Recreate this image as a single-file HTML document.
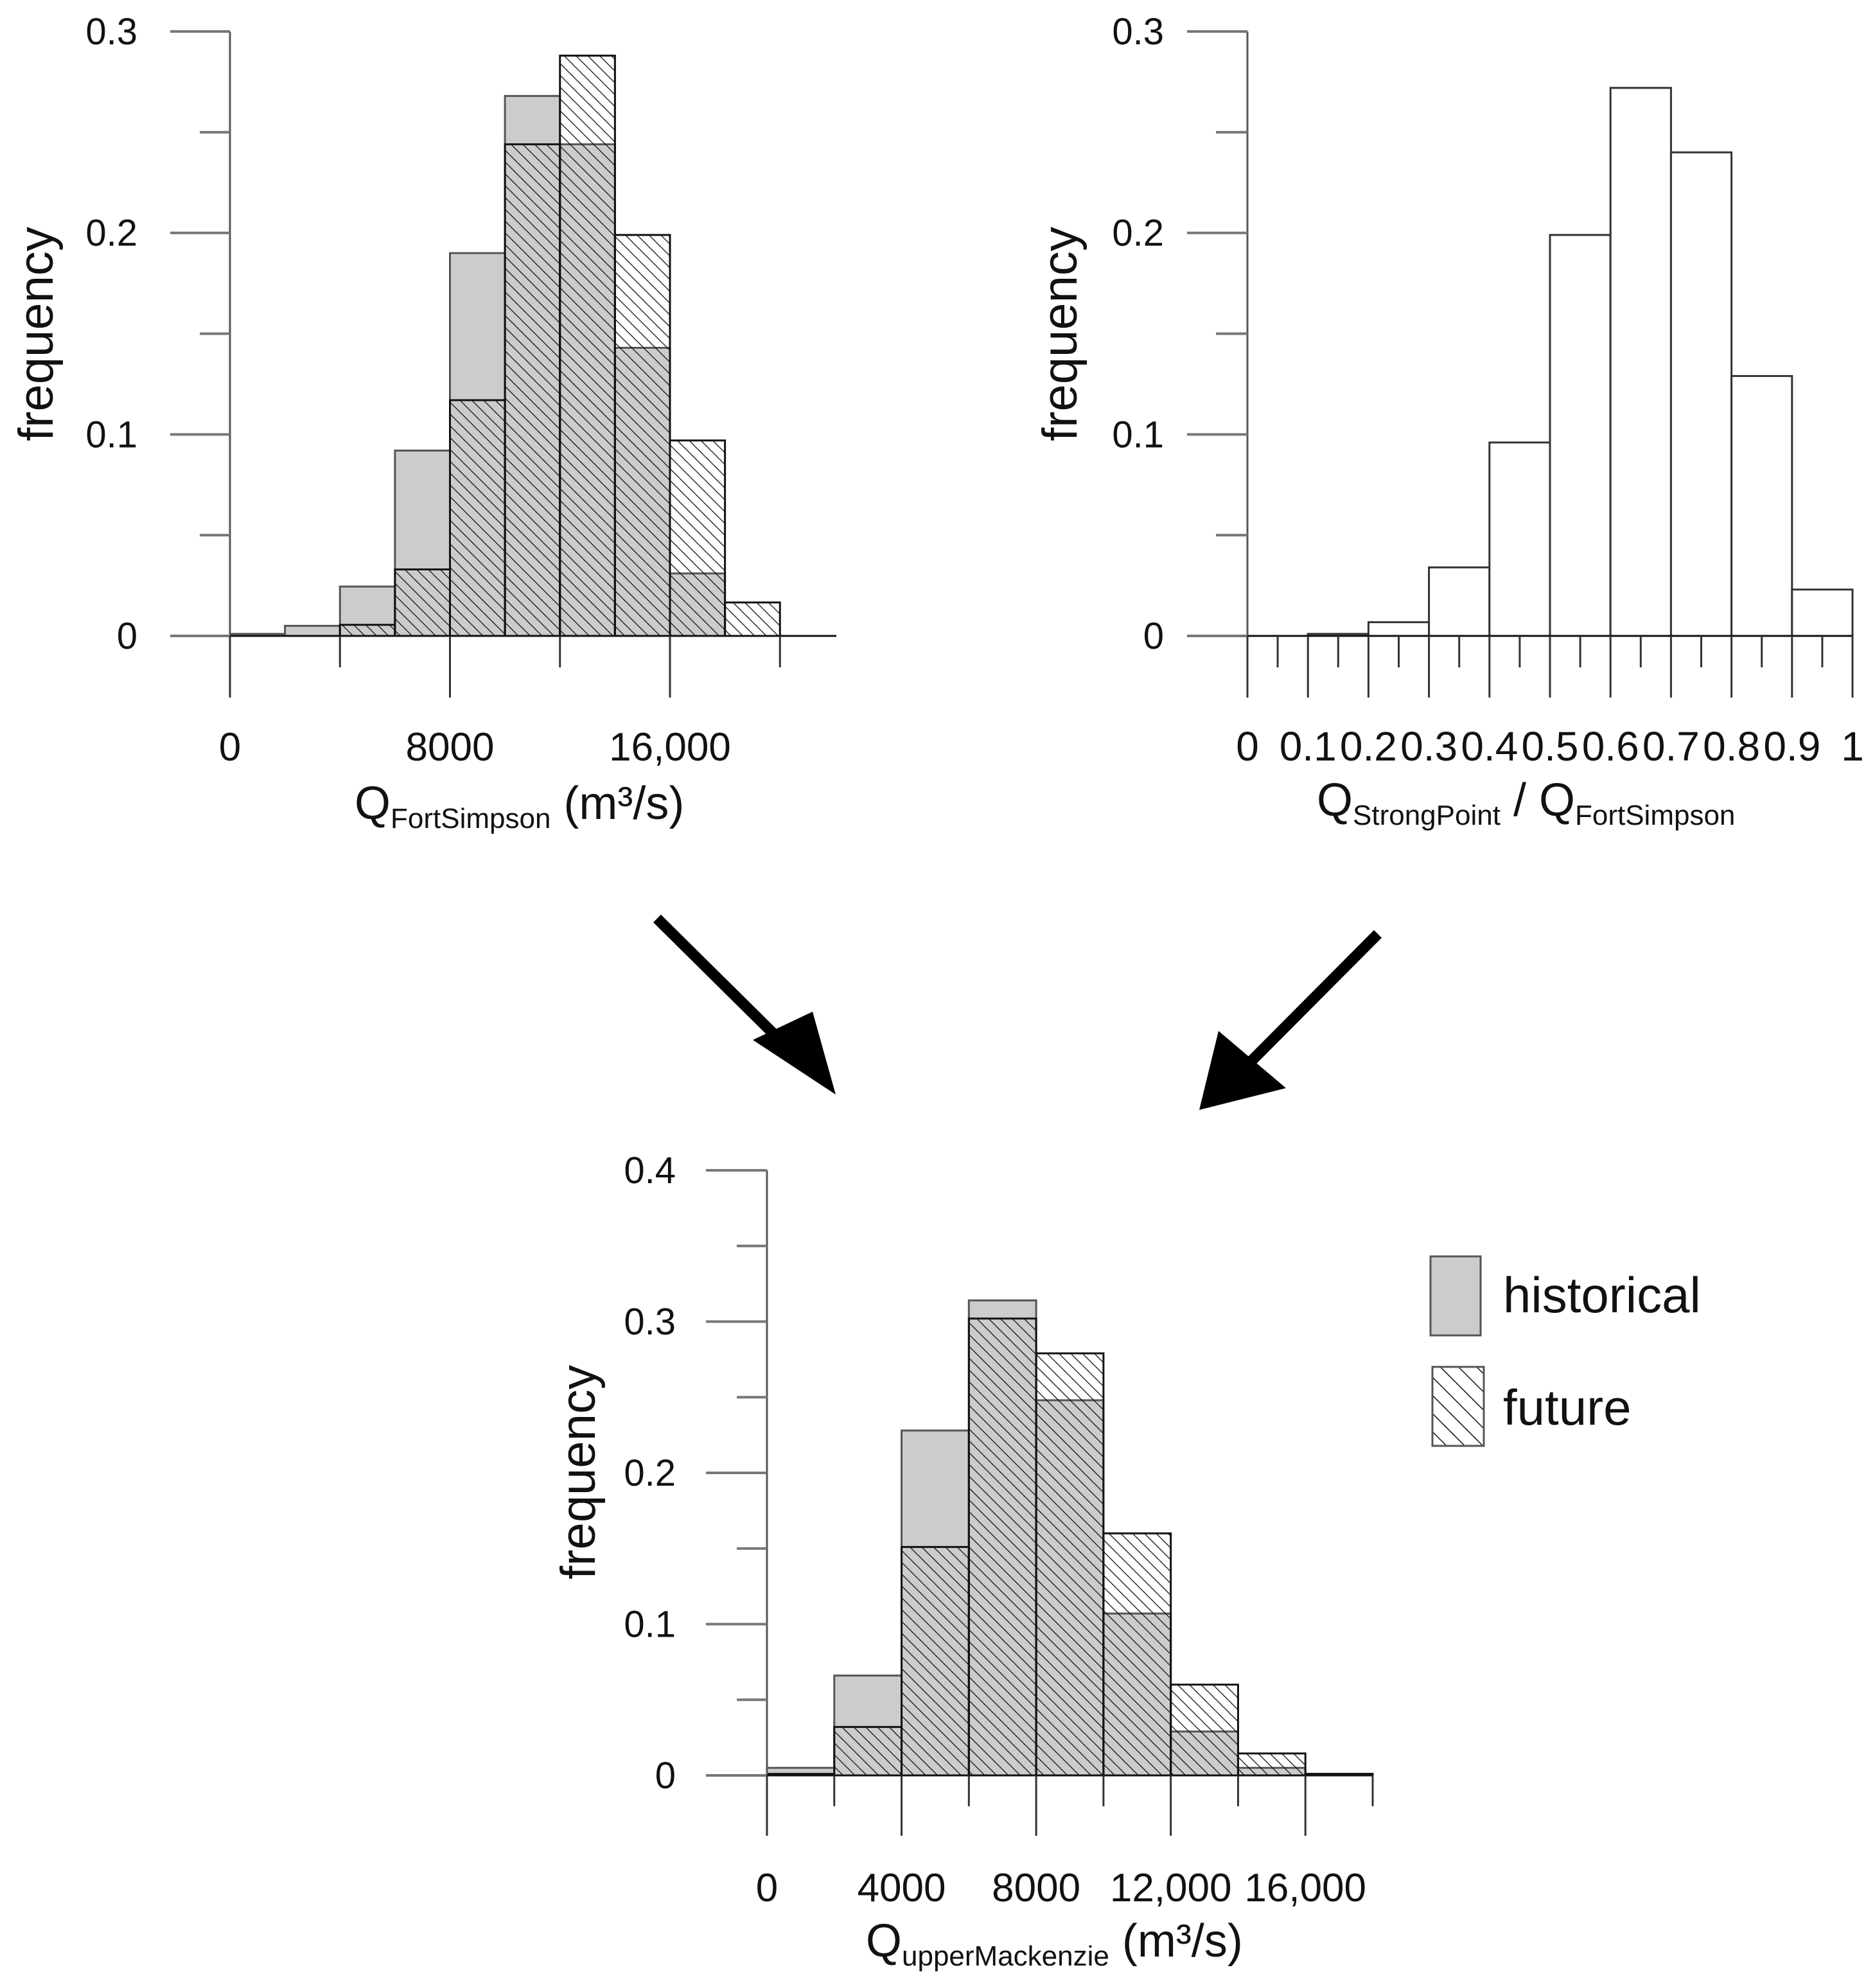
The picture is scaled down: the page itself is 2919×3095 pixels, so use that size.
<!DOCTYPE html>
<html><head><meta charset="utf-8"><style>
html,body{margin:0;padding:0;background:#fff;}
svg{display:block;}
text{font-family:"Liberation Sans",sans-serif;fill:#111;}
</style></head><body>
<svg id="fig" width="2919" height="3095" viewBox="0 0 2919 3095" xmlns="http://www.w3.org/2000/svg">
<defs>
<pattern id="hatch" patternUnits="userSpaceOnUse" width="13" height="13" patternTransform="rotate(-45)">
<line x1="0" y1="0" x2="0" y2="13" stroke="#111" stroke-width="2.6"/>
</pattern>
<pattern id="hatchL" patternUnits="userSpaceOnUse" width="20" height="20" patternTransform="rotate(-45)">
<line x1="0" y1="0" x2="0" y2="20" stroke="#111" stroke-width="3"/>
</pattern>
</defs>
<g id="arrows">
<line x1="1023" y1="1430" x2="1215" y2="1620" stroke="#000" stroke-width="17"/>
<polygon points="1172,1619 1265,1575 1301,1704" fill="#000"/>
<line x1="2145" y1="1454" x2="1945" y2="1655" stroke="#000" stroke-width="17"/>
<polygon points="1897,1605 2002,1694 1867,1728" fill="#000"/>
</g>
<g id="legend">
<rect x="2227" y="1956" width="78" height="123" fill="#cccccc" stroke="#555" stroke-width="3"/>
<text x="2340" y="2043" font-size="78">historical</text>
<rect x="2230" y="2128" width="80" height="123" fill="url(#hatchL)" stroke="#555" stroke-width="3"/>
<text x="2340" y="2218" font-size="78">future</text>
</g>
</svg>
<script>
// Chart A: Q FortSimpson
const aEdges = [0,2000,4000,6000,8000,10000,12000,14000,16000,18000,20000];
const aHist = [0.001,0.005,0.0245,0.092,0.190,0.268,0.244,0.143,0.031,0];
const aFut = [0,0,0.0055,0.033,0.117,0.244,0.288,0.199,0.097,0.0166];
const aYTicks = [0,0.1,0.2,0.3];
const aYTickLabels = ["0","0.1","0.2","0.3"];
const aXTicks = [0,8000,16000];
const aXTickLabels = ["0","8000","16,000"];
// Chart B: ratio
const bEdges = [0,0.1,0.2,0.3,0.4,0.5,0.6,0.7,0.8,0.9,1.0];
const bVals = [0,0.001,0.0068,0.034,0.096,0.199,0.272,0.240,0.129,0.023];
const bYTicks = [0,0.1,0.2,0.3];
const bYTickLabels = ["0","0.1","0.2","0.3"];
const bXTicks = [0,0.1,0.2,0.3,0.4,0.5,0.6,0.7,0.8,0.9,1];
const bXTickLabels = ["0","0.1","0.2","0.3","0.4","0.5","0.6","0.7","0.8","0.9","1"];
// Chart C: Q upperMackenzie
const cEdges = [0,2000,4000,6000,8000,10000,12000,14000,16000,18000];
const cHist = [0.005,0.066,0.228,0.314,0.248,0.107,0.029,0.005,0.001];
const cFut = [0.001,0.032,0.151,0.302,0.279,0.160,0.060,0.0145,0.001];
const cYTicks = [0,0.1,0.2,0.3,0.4];
const cYTickLabels = ["0","0.1","0.2","0.3","0.4"];
const cXTicks = [0,4000,8000,12000,16000];
const cXTickLabels = ["0","4000","8000","12,000","16,000"];

const svg = document.getElementById('fig');
const NS = 'http://www.w3.org/2000/svg';
function mk(tag, attrs, parent){
  const e = document.createElementNS(NS, tag);
  for (const k in attrs) e.setAttribute(k, attrs[k]);
  (parent||svg).appendChild(e);
  return e;
}
function chart(cfg){
  const g = mk('g', {});
  
  
  const sx = v => cfg.x0 + (v - cfg.xmin) / (cfg.xmax - cfg.xmin) * (cfg.x1 - cfg.x0);
  const sy = v => cfg.y0 - v / cfg.ymax * (cfg.y0 - cfg.y1);
  cfg.series.forEach(s => {
    s.vals.forEach((v, i) => {
      if (v <= 0) return;
      const x = sx(s.edges[i]), w = sx(s.edges[i+1]) - x, y = sy(v);
      const r = mk('rect', {x:x, y:y, width:w, height:sy(0)-y, fill:s.fill, stroke:s.stroke, 'stroke-width':3}, g);
      
      
    });
  });
  const ya = mk('line', {x1:cfg.x0, y1:sy(cfg.ymax), x2:cfg.x0, y2:cfg.axisBottom, stroke:'#555', 'stroke-width':3}, g);
  
  
  const xa = mk('line', {x1:cfg.axisLeft, y1:sy(0), x2:cfg.axisRight, y2:sy(0), stroke:'#111', 'stroke-width':3}, g);
  
  
  for (let v = 0; v <= cfg.ymax + 1e-9; v += cfg.ystep/2) {
    const major = Math.abs(v/cfg.ystep - Math.round(v/cfg.ystep)) < 1e-6;
    const t = mk('line', {x1: major ? cfg.axisLeft : cfg.minorLeft, y1:sy(v), x2:cfg.x0, y2:sy(v), stroke:'#777', 'stroke-width':4}, g);
    
    
  }
  cfg.yTicks.forEach((v, i) => {
    const t = mk('text', {x:cfg.yLabelRight, y:sy(v)+20, 'font-size':58, 'text-anchor':'end'}, g);
    t.textContent = cfg.yTickLabels[i];
    
    
  });
  cfg.xTickPos.forEach((v, i) => {
    const long = cfg.isLong(v, i);
    const t = mk('line', {x1:sx(v), y1:sy(0), x2:sx(v), y2: long ? cfg.axisBottom : cfg.shortBottom, stroke:'#333', 'stroke-width':3}, g);
    
    
  });
  cfg.xTicks.forEach((v, i) => {
    const t = mk('text', {x:sx(v), y:cfg.xLabelY, 'font-size':cfg.xfs||62, 'text-anchor':'middle'}, g);
    t.textContent = cfg.xTickLabels[i];
    
    
  });
  const yt = mk('text', {x:0, y:0, 'font-size':76, 'text-anchor':'middle', transform:'translate(' + cfg.yTitleX + ',' + cfg.yTitleY + ') rotate(-90)'}, g);
  yt.textContent = 'frequency';
  
  
  const xt = mk('text', {x:cfg.titleX, y:cfg.titleY, 'font-size':72}, g);
  
  
  cfg.title.forEach(p => {
    const ts = mk('tspan', p.sub ? {'font-size':44, dy:14} : (p.after ? {dy:-14} : {}), xt);
    ts.textContent = p.t;
  });
  return g;
}
const aTickPos = [0,4000,8000,12000,16000,20000];
chart({name:'fort-simpson-histogram', x0:358, x1:1043, xmin:0, xmax:16000, y0:990, y1:49, ymax:0.3, ystep:0.1,
  axisLeft:265, axisRight:1302, minorLeft:311, axisBottom:1086, shortBottom:1039,
  series:[{key:'historical', edges:aEdges, vals:aHist, fill:'#cccccc', stroke:'#555'},
          {key:'future', edges:aEdges, vals:aFut, fill:'url(#hatch)', stroke:'#111'}],
  yTicks:aYTicks, yTickLabels:aYTickLabels, yLabelRight:214,
  xTickPos:aTickPos, isLong:(v)=>v%8000===0, xTicks:aXTicks, xTickLabels:aXTickLabels, xLabelY:1184,
  yTitleX:82, yTitleY:520, titleX:552, titleY:1275,
  title:[{t:'Q'},{t:'FortSimpson',sub:true},{t:' (m³/s)',after:true}]});
const bTickPos = [];
for (let k = 0; k <= 20; k++) bTickPos.push(k/20);
chart({name:'ratio-histogram', x0:1942, x1:2884, xmin:0, xmax:1, y0:990, y1:49, ymax:0.3, ystep:0.1,
  axisLeft:1848, axisRight:2884, minorLeft:1893, axisBottom:1086, shortBottom:1039,
  series:[{key:'ratio', edges:bEdges, vals:bVals, fill:'#fff', stroke:'#333'}],
  yTicks:bYTicks, yTickLabels:bYTickLabels, yLabelRight:1812,
  xTickPos:bTickPos, isLong:(v,i)=>i%2===0, xTicks:bXTicks, xTickLabels:bXTickLabels, xLabelY:1184, xfs:64,
  yTitleX:1676, yTitleY:520, titleX:2050, titleY:1270,
  title:[{t:'Q'},{t:'StrongPoint',sub:true},{t:' / Q',after:true},{t:'FortSimpson',sub:true}]});
const cTickPos = [0,2000,4000,6000,8000,10000,12000,14000,16000,18000];
chart({name:'upper-mackenzie-histogram', x0:1194, x1:2137, xmin:0, xmax:18000, y0:2764, y1:1822, ymax:0.4, ystep:0.1,
  axisLeft:1099, axisRight:2137, minorLeft:1147, axisBottom:2858, shortBottom:2812,
  series:[{key:'historical', edges:cEdges, vals:cHist, fill:'#cccccc', stroke:'#555'},
          {key:'future', edges:cEdges, vals:cFut, fill:'url(#hatch)', stroke:'#111'}],
  yTicks:cYTicks, yTickLabels:cYTickLabels, yLabelRight:1052,
  xTickPos:cTickPos, isLong:(v)=>v%4000===0 && v<=16000, xTicks:cXTicks, xTickLabels:cXTickLabels, xLabelY:2960,
  yTitleX:926, yTitleY:2292, titleX:1348, titleY:3046,
  title:[{t:'Q'},{t:'upperMackenzie',sub:true},{t:' (m³/s)',after:true}]});
</script>
</body></html>
